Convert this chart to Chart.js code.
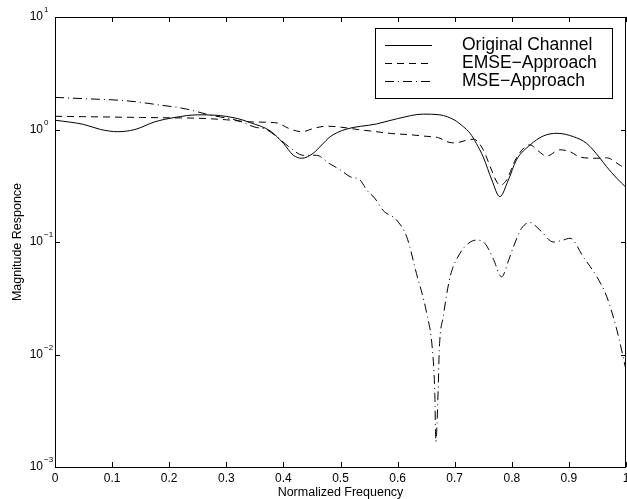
<!DOCTYPE html>
<html>
<head>
<meta charset="utf-8">
<script src="https://cdn.jsdelivr.net/npm/chart.js@4/dist/chart.umd.min.js"></script>
<style>
  html, body { margin: 0; padding: 0; background: #fff; }
  canvas { display: block; }
</style>
</head>
<body>
<canvas id="chart" width="627" height="499"></canvas>
<script>
// values (normalized frequency, magnitude)
const origFreq = [0, 0.05, 0.08, 0.11, 0.14, 0.175, 0.21, 0.25, 0.28, 0.32, 0.342, 0.377, 0.4, 0.417, 0.432, 0.452, 0.467, 0.482, 0.508, 0.563, 0.6, 0.645, 0.674, 0.7, 0.715, 0.727, 0.738, 0.75, 0.765, 0.779, 0.794, 0.808, 0.832, 0.855, 0.879, 0.908, 0.931, 0.954, 0.966, 0.984, 1.0]
const origMag = [1.21, 1.11, 1.0, 0.956, 1.0, 1.17, 1.28, 1.35, 1.34, 1.25, 1.15, 0.97, 0.753, 0.593, 0.555, 0.614, 0.728, 0.863, 1.0, 1.12, 1.25, 1.37, 1.35, 1.21, 1.06, 0.925, 0.75, 0.57, 0.356, 0.253, 0.356, 0.535, 0.728, 0.875, 0.925, 0.863, 0.753, 0.56, 0.467, 0.368, 0.306]

const emseFreq = [0, 0.05, 0.1, 0.15, 0.2, 0.25, 0.3, 0.34, 0.37, 0.39, 0.41, 0.432, 0.455, 0.475, 0.5, 0.53, 0.56, 0.59, 0.62, 0.65, 0.67, 0.69, 0.7, 0.72, 0.733, 0.75, 0.762, 0.774, 0.779, 0.791, 0.806, 0.823, 0.832, 0.844, 0.861, 0.884, 0.902, 0.919, 0.949, 0.966, 0.99, 1.0]
const emseMag = [1.31, 1.3, 1.29, 1.28, 1.27, 1.26, 1.22, 1.17, 1.16, 1.14, 1.02, 0.956, 1.03, 1.07, 1.05, 1.0, 0.96, 0.92, 0.9, 0.87, 0.85, 0.77, 0.76, 0.8, 0.82, 0.66, 0.47, 0.34, 0.32, 0.356, 0.535, 0.7, 0.73, 0.66, 0.58, 0.66, 0.635, 0.57, 0.555, 0.56, 0.48, 0.45]

const mseFreq = [0, 0.05, 0.125, 0.18, 0.23, 0.27, 0.32, 0.35, 0.37, 0.39, 0.41, 0.435, 0.458, 0.48, 0.5, 0.517, 0.534, 0.546, 0.56, 0.575, 0.598, 0.616, 0.633, 0.651, 0.661, 0.665, 0.667, 0.671, 0.673, 0.68, 0.692, 0.709, 0.725, 0.738, 0.753, 0.768, 0.782, 0.795, 0.803, 0.817, 0.832, 0.849, 0.873, 0.89, 0.902, 0.925, 0.949, 0.966, 0.984, 1.0]
const mseMag = [1.93, 1.88, 1.8, 1.66, 1.52, 1.35, 1.2, 1.05, 1.0, 0.85, 0.7, 0.59, 0.59, 0.5, 0.436, 0.38, 0.356, 0.29, 0.245, 0.19, 0.157, 0.111, 0.0526, 0.0232, 0.011, 0.0048, 0.00168, 0.0048, 0.011, 0.0217, 0.049, 0.079, 0.098, 0.104, 0.097, 0.07, 0.049, 0.07, 0.091, 0.132, 0.149, 0.128, 0.1, 0.104, 0.108, 0.074, 0.049, 0.033, 0.0165, 0.0073]

const seriesNames = ['Original Channel', 'EMSE\u2212Approach', 'MSE\u2212Approach']

const xTicks = [0, 0.1, 0.2, 0.3, 0.4, 0.5, 0.6, 0.7, 0.8, 0.9, 1]
const xTickLabels = ['0', '0.1', '0.2', '0.3', '0.4', '0.5', '0.6', '0.7', '0.8', '0.9', '1']
const yTicks = [0.001, 0.01, 0.1, 1, 10]
const yTickExp = ['\u22123', '\u22122', '\u22121', '0', '1']

const FONT = "'Liberation Sans', Arial, Helvetica, sans-serif"

const toPoints = (xs, ys) => xs.map((x, i) => ({ x, y: ys[i] }))

// matlab style box: frame, inward ticks, 10^n labels, boxed legend
const matlabBox = {
  id: 'matlabBox',
  afterDraw (chart) {
    const { ctx, chartArea: a, scales: { x, y } } = chart
    ctx.save()
    ctx.strokeStyle = '#000'
    ctx.lineWidth = 1
    ctx.strokeRect(a.left + 0.5, a.top + 0.5, a.right - a.left - 1, a.bottom - a.top)

    ctx.beginPath()
    x.ticks.forEach(t => {
      const px = Math.round(x.getPixelForValue(t.value)) + 0.5
      ctx.moveTo(px, a.bottom); ctx.lineTo(px, a.bottom - 5)
      ctx.moveTo(px, a.top); ctx.lineTo(px, a.top + 5)
    })
    y.ticks.forEach(t => {
      const py = Math.round(y.getPixelForValue(t.value)) + 0.5
      ctx.moveTo(a.left, py); ctx.lineTo(a.left + 5, py)
      ctx.moveTo(a.right, py); ctx.lineTo(a.right - 5, py)
    })
    ctx.stroke()

    // y tick labels with superscript exponent
    ctx.fillStyle = '#000'
    ctx.textBaseline = 'middle'
    y.ticks.forEach((t, i) => {
      const py = y.getPixelForValue(t.value)
      ctx.font = '12px ' + FONT
      ctx.textAlign = 'right'
      ctx.fillText('10', a.left - 12, py)
      ctx.font = '8px ' + FONT
      ctx.textAlign = 'left'
      ctx.fillText(yTickExp[i], a.left - 11, py - 7)
    })

    // legend
    const bx = 375, by = 28, bw = 237, bh = 70
    ctx.fillStyle = '#fff'
    ctx.fillRect(bx, by, bw, bh)
    ctx.strokeRect(bx + 0.5, by + 0.5, bw, bh)
    ctx.font = '17.5px ' + FONT
    ctx.textAlign = 'left'
    ctx.fillStyle = '#000'
    chart.data.datasets.forEach((ds, i) => {
      const ry = by + 16.5 + i * 18
      ctx.setLineDash(ds.borderDash || [])
      ctx.beginPath()
      ctx.moveTo(bx + 10, Math.round(ry) + 0.5)
      ctx.lineTo(bx + 57, Math.round(ry) + 0.5)
      ctx.stroke()
      ctx.setLineDash([])
      ctx.fillText(ds.label, bx + 87, ry + 1)
    })
    ctx.restore()
  }
}

const lineStyle = {
  borderColor: '#000',
  borderWidth: 1,
  pointRadius: 0,
  fill: false,
  cubicInterpolationMode: 'monotone'
}

new Chart(document.getElementById('chart').getContext('2d'), {
  type: 'line',
  data: {
    datasets: [
      { ...lineStyle, label: seriesNames[0], data: toPoints(origFreq, origMag) },
      { ...lineStyle, label: seriesNames[1], data: toPoints(emseFreq, emseMag), borderDash: [7, 5] },
      { ...lineStyle, label: seriesNames[2], data: toPoints(mseFreq, mseMag), borderDash: [9, 4, 1, 4] }
    ]
  },
  options: {
    responsive: false,
    animation: false,
    layout: { padding: { top: 17, right: 1, left: 0, bottom: 0 } },
    plugins: { legend: { display: false }, tooltip: { enabled: false } },
    scales: {
      x: {
        type: 'linear',
        min: 0,
        max: 1,
        afterBuildTicks: s => { s.ticks = xTicks.map(v => ({ value: v })) },
        afterFit: s => { s.height = 32; s.paddingLeft = 0; s.paddingRight = 0 },
        grid: { display: false, drawTicks: false },
        border: { display: false },
        ticks: {
          color: '#000',
          padding: 4,
          maxRotation: 0,
          autoSkip: false,
          font: { family: FONT, size: 12 },
          callback: (v, i) => xTickLabels[i]
        },
        title: {
          display: true,
          text: 'Normalized Frequency',
          color: '#000',
          padding: 0,
          font: { family: FONT, size: 12.5, lineHeight: 1 }
        }
      },
      y: {
        type: 'logarithmic',
        min: 0.001,
        max: 10,
        afterBuildTicks: s => { s.ticks = yTicks.map(v => ({ value: v })) },
        afterFit: s => { s.width = 55; s.paddingTop = 0; s.paddingBottom = 0 },
        grid: { display: false, drawTicks: false },
        border: { display: false },
        ticks: { display: false },
        title: {
          display: true,
          text: 'Magnitude Responce',
          color: '#000',
          padding: { top: 11, bottom: 0 },
          font: { family: FONT, size: 12.5, lineHeight: 1 }
        }
      }
    }
  },
  plugins: [matlabBox]
})
</script>
</body>
</html>
